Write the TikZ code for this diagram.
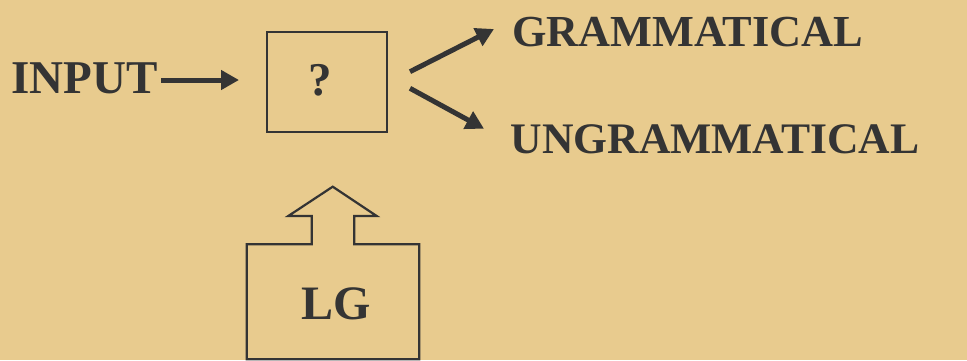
\documentclass[tikz,border=0pt]{standalone}
\usepackage{fontspec}
\setmainfont{Liberation Serif}
\usetikzlibrary{arrows.meta}
\definecolor{papyrus}{RGB}{232,203,142}
\definecolor{ink}{RGB}{52,52,52}
\tikzset{
  lbl/.style={inner sep=0pt, text=ink, font=\bfseries\fontsize{47}{47}\selectfont},
  boxline/.style={draw=ink, line width=2.2pt},
  bigarrow/.style={draw=ink, line width=5pt, -{Triangle[length=18pt,width=19pt]}},
}
\begin{document}
\begin{tikzpicture}[x=1pt,y=1pt]
  \fill[papyrus] (0,0) rectangle (967,360);
  \useasboundingbox (0,0) rectangle (967,360);
  % question box
  \node[boxline, minimum width=120.3pt, minimum height=100.6pt, inner sep=0pt, anchor=south west] (qbox) at (265.7,226.7) {};
  \node[lbl, anchor=base] (q) at (320,265) {?};
  % input
  \node[lbl, anchor=base west] (input) at (11.5,266.7) {INPUT};
  \coordinate (inEnd) at (239,280);
  \draw[bigarrow] (input.east |- inEnd) ++(3,0) coordinate (inStart) -- (inEnd);
  % outputs
  \node[lbl, font=\bfseries\fontsize{44.3}{44.3}\selectfont, anchor=base west] (gram) at (512,313.3) {GRAMMATICAL};
  \node[lbl, font=\bfseries\fontsize{43.6}{43.6}\selectfont, anchor=base west] (ungram) at (510.5,206.7) {UNGRAMMATICAL};
  \coordinate (o1s) at (410,288.3);
  \coordinate (o1e) at (494,331);
  \coordinate (o2s) at (410,271.7);
  \coordinate (o2e) at (484,231.3);
  \draw[bigarrow] (o1s) -- (o1e);
  \draw[bigarrow] (o2s) -- (o2e);
  % LG block with up arrow
  \draw[boxline, line join=miter, fill=none]
    (246.7,0.8) -- (246.7,115.7) -- (311.7,115.7) -- (311.7,144) -- (288.3,144)
    -- (332.7,173.3) -- (376.7,144) -- (354.3,144) -- (354.3,115.7)
    -- (419.3,115.7) -- (419.3,0.8) -- cycle;
  \node[lbl, font=\bfseries\fontsize{48}{48}\selectfont, anchor=base] (lg) at (336,41) {LG};
\end{tikzpicture}
\end{document}
